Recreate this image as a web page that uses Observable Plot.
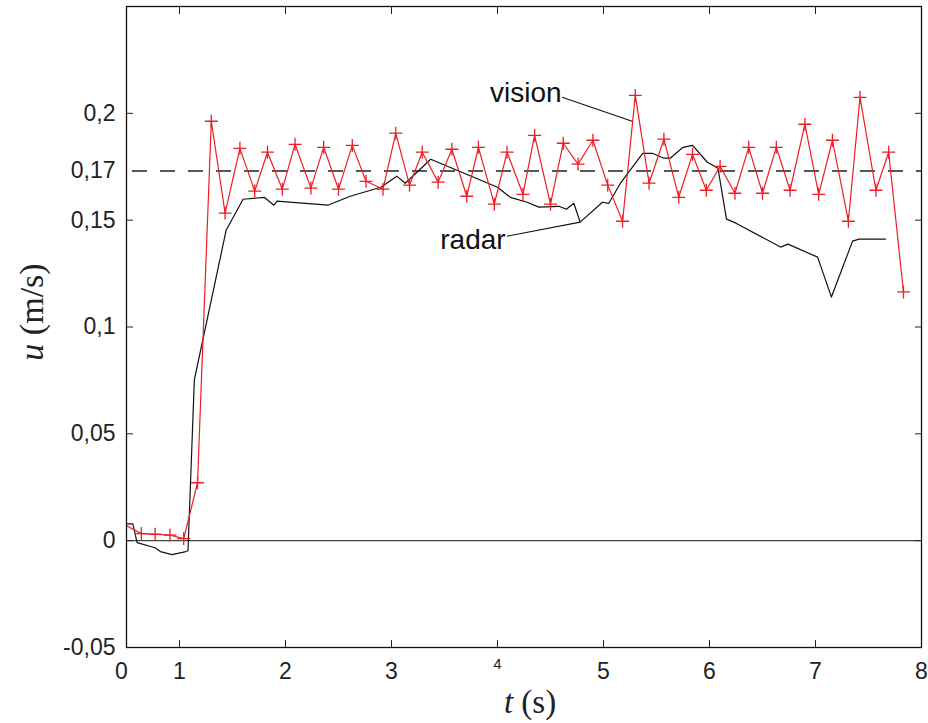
<!DOCTYPE html>
<html><head><meta charset="utf-8">
<script src="https://cdn.jsdelivr.net/npm/d3@7"></script>
<script src="https://cdn.jsdelivr.net/npm/@observablehq/plot@0.6"></script>
<style>body{margin:0;background:#fff}</style>
</head><body><div id="chart"></div>
<script>
// vision (red, + markers)
const visionT = [0.50,0.64,0.77,0.91,1.04,1.17,1.30,1.43,1.57,1.71,1.83,1.97,2.09,2.24,2.36,2.50,2.63,2.76,2.92,3.04,3.17,3.29,3.44,3.57,3.71,3.82,3.97,4.09,4.24,4.35,4.50,4.62,4.76,4.90,5.04,5.18,5.30,5.43,5.57,5.71,5.84,5.97,6.10,6.24,6.37,6.50,6.63,6.76,6.90,7.03,7.16,7.31,7.42,7.57,7.69,7.83];
const visionU = [0.0070,0.0033,0.0030,0.0026,0.0010,0.0271,0.1963,0.1533,0.1836,0.1636,0.1818,0.1645,0.1855,0.1650,0.1841,0.1645,0.1850,0.1682,0.1645,0.1907,0.1664,0.1818,0.1678,0.1832,0.1612,0.1841,0.1575,0.1818,0.1621,0.1897,0.1575,0.1860,0.1762,0.1874,0.1664,0.1495,0.2084,0.1673,0.1879,0.1607,0.1808,0.1640,0.1752,0.1626,0.1841,0.1626,0.1841,0.1640,0.1949,0.1621,0.1874,0.1495,0.2075,0.1640,0.1818,0.1164];
// radar (black line)
const radarT = [0.51,0.56,0.60,0.77,0.82,0.93,1.06,1.08,1.14,1.44,1.60,1.80,1.89,1.92,2.40,2.61,2.90,3.05,3.13,3.37,4.00,4.12,4.28,4.39,4.58,4.65,4.72,4.78,4.99,5.05,5.16,5.37,5.46,5.57,5.63,5.75,5.84,5.98,6.08,6.16,6.25,6.67,6.74,7.02,7.15,7.35,7.41,7.66];
const radarU = [0.0079,0.0079,-0.0009,-0.0033,-0.0051,-0.0065,-0.0051,-0.0047,0.0752,0.1453,0.1598,0.1607,0.1570,0.1589,0.1570,0.1612,0.1654,0.1706,0.1673,0.1785,0.1654,0.1607,0.1584,0.1561,0.1565,0.1551,0.1579,0.1491,0.1584,0.1579,0.1673,0.1813,0.1813,0.1790,0.1790,0.1841,0.1850,0.1771,0.1743,0.1505,0.1486,0.1374,0.1388,0.1327,0.1140,0.1402,0.1411,0.1411];
// axis ticks and reference level
const xTickValues = [1,2,3,5,6,7,8];
const xTickSmall = [4];
const xStart = 0.5, xStartLabel = "0";
const yTickValues = [-0.05,0,0.05,0.1,0.15,0.2];
const yTickMarks = [0,0.05,0.1,0.15,0.2];
const refLevel = 0.173, refLabel = "0,17";
// annotations
const labelNames = ["vision","radar"];
const labelT = [3.93,3.46];
const labelU = [0.2095,0.1405];
const leaderT1 = [4.61,4.09], leaderU1 = [0.2075,0.1425];
const leaderT2 = [5.27,4.78], leaderU2 = [0.1963,0.1491];

const vision = visionT.map((t,i)=>({t, u: visionU[i]}));
const radar = radarT.map((t,i)=>({t, u: radarU[i]}));
const labels = labelNames.map((s,i)=>({s, t: labelT[i], u: labelU[i]}));
const leaders = labelNames.map((s,i)=>({t1: leaderT1[i], u1: leaderU1[i], t2: leaderT2[i], u2: leaderU2[i]}));

const plus = {draw(ctx, size){const r=Math.sqrt(size/Math.PI); ctx.moveTo(-r,0); ctx.lineTo(r,0); ctx.moveTo(0,-r); ctx.lineTo(0,r);}};
const fmt = d => String(d).replace(".", ",");
const red = "#ee1d25";

const chart = Plot.plot({
  width: 928, height: 723,
  marginLeft: 126, marginRight: 7, marginTop: 6, marginBottom: 76,
  style: {fontFamily: "'Liberation Sans', Arial, sans-serif", fontSize: "23px", color: "#222", background: "white"},
  x: {domain: [0.5, 8], label: null},
  y: {domain: [-0.05, 0.25], label: null},
  marks: [
    Plot.ruleY([0], {stroke: "#444", strokeWidth: 1.4}),
    Plot.ruleY([refLevel], {stroke: "#222", strokeWidth: 1.3, strokeDasharray: "15,13", strokeDashoffset: -6}),
    Plot.line(radar, {x: "t", y: "u", stroke: "#111", strokeWidth: 1.2}),
    Plot.line(vision, {x: "t", y: "u", stroke: red, strokeWidth: 1.2}),
    Plot.dot(vision.slice(1), {x: "t", y: "u", symbol: plus, r: 6.5, stroke: red, strokeWidth: 1.3, fill: "none"}),
    Plot.link(leaders, {x1: "t1", y1: "u1", x2: "t2", y2: "u2", stroke: "#111", strokeWidth: 1.1}),
    Plot.text(labels, {x: "t", y: "u", text: "s", textAnchor: "start", fontSize: 28, fill: "#111"}),
    Plot.frame({stroke: "#111", strokeWidth: 1.3}),
    Plot.axisX({ticks: [1,2,3,4,5,6,7], anchor: "bottom", tickSize: -7, tickFormat: () => "", label: null}),
    Plot.axisX({ticks: [1,2,3,4,5,6,7], anchor: "top", tickSize: -7, tickFormat: () => "", label: null}),
    Plot.axisY({ticks: yTickMarks, anchor: "left", tickSize: -7, tickFormat: () => "", label: null}),
    Plot.axisY({ticks: yTickMarks, anchor: "right", tickSize: -7, tickFormat: () => "", label: null}),
    Plot.axisX({ticks: xTickValues, anchor: "bottom", tickSize: 0, tickPadding: 15, tickFormat: d => String(d), label: null}),
    Plot.axisX({ticks: xTickSmall, anchor: "bottom", tickSize: 0, tickPadding: 11, fontSize: 15, tickFormat: d => String(d), label: null}),
    Plot.axisX({ticks: [xStart], anchor: "bottom", tickSize: 0, tickPadding: 15, dx: -5, tickFormat: () => xStartLabel, label: null}),
    Plot.axisY({ticks: yTickValues, anchor: "left", tickSize: 0, tickPadding: 11, tickFormat: fmt, label: null}),
    Plot.axisY({ticks: [refLevel], anchor: "left", tickSize: 0, tickPadding: 11, tickFormat: () => refLabel, label: null})
  ]
});
document.getElementById("chart").appendChild(chart);

const svg = d3.select(chart);
const xt = svg.append("text").attr("x", 530).attr("y", 713).attr("text-anchor", "middle")
  .style("font-family", "'Liberation Serif', 'DejaVu Serif', serif").style("font-size", "33px").attr("fill", "#222");
xt.append("tspan").style("font-style", "italic").text("t");
xt.append("tspan").text(" (s)");
const yt = svg.append("text").attr("transform", "translate(43,312) rotate(-90)").attr("text-anchor", "middle")
  .style("font-family", "'Liberation Serif', 'DejaVu Serif', serif").style("font-size", "34px").attr("fill", "#222");
yt.append("tspan").style("font-style", "italic").text("u");
yt.append("tspan").text(" (m/s)");
</script>
</body></html>
